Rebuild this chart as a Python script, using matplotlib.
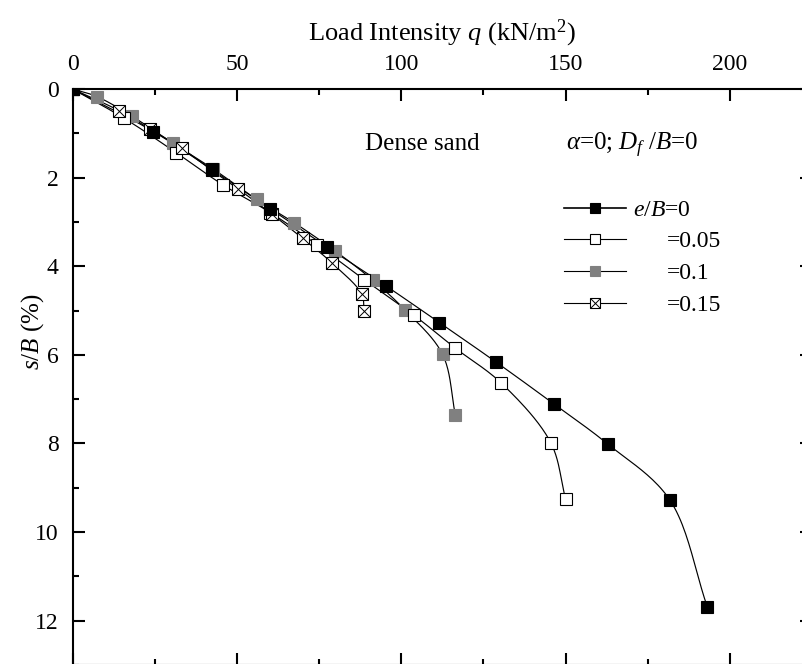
import numpy as np
import matplotlib
matplotlib.use("Agg")
import matplotlib.pyplot as plt
from matplotlib.ticker import MultipleLocator, FixedLocator

plt.rcParams['font.family'] = ['Liberation Serif', 'DejaVu Serif']
plt.rcParams['mathtext.fontset'] = 'custom'
plt.rcParams['mathtext.rm'] = 'Liberation Serif'
plt.rcParams['mathtext.it'] = 'Liberation Serif:italic'
plt.rcParams['mathtext.bf'] = 'Liberation Serif:bold'

# ---- data ----
q_e0 = [0, 24.6, 42.3, 60.1, 77.3, 95.3, 111.6, 129.0, 146.5, 162.8, 181.7, 193.2]
s_e0 = [0, 0.96, 1.81, 2.70, 3.56, 4.44, 5.27, 6.17, 7.11, 8.01, 9.27, 11.70]

q_e005 = [0, 15.7, 31.6, 45.9, 60.2, 74.5, 88.7, 103.8, 116.5, 130.5, 145.5, 150.0]
s_e005 = [0, 0.66, 1.44, 2.17, 2.79, 3.52, 4.30, 5.10, 5.85, 6.64, 7.98, 9.26]

q_e01 = [0, 7.4, 18.0, 30.7, 42.7, 56.0, 67.5, 79.8, 91.3, 101.2, 112.6, 116.5]
s_e01 = [0, 0.17, 0.61, 1.23, 1.80, 2.49, 3.02, 3.65, 4.31, 4.99, 5.99, 7.36]

q_e015 = [0, 14.2, 23.7, 33.2, 42.3, 50.5, 60.6, 70.0, 79.0, 88.0, 88.7]
s_e015 = [0, 0.49, 0.91, 1.34, 1.83, 2.26, 2.82, 3.37, 3.93, 4.63, 5.01]

labels = ['$e/B$=0', '=0.05', '=0.1', '=0.15']
x_ticks = [0, 50, 100, 150, 200]
y_ticks = [0, 2, 4, 6, 8, 10, 12]

fig = plt.figure(figsize=(8.02, 6.64), dpi=100)
ax = fig.add_axes([72.5 / 802, 1 - 665 / 664, 739.5 / 802, 576 / 664])
ax.set_xlim(0, 225)
ax.set_ylim(13, 0)


def smooth(xs, ys, n=24, alpha=0.5):
    """Centripetal Catmull-Rom curve through the points, computed in display space."""
    P = ax.transData.transform(np.column_stack([xs, ys]).astype(float))
    P = np.vstack([2 * P[0] - P[1], P, 2 * P[-1] - P[-2]])
    out = []
    for i in range(1, len(P) - 2):
        p0, p1, p2, p3 = P[i - 1], P[i], P[i + 1], P[i + 2]
        t0 = 0.0
        t1 = t0 + max(np.linalg.norm(p1 - p0), 1e-6) ** alpha
        t2 = t1 + max(np.linalg.norm(p2 - p1), 1e-6) ** alpha
        t3 = t2 + max(np.linalg.norm(p3 - p2), 1e-6) ** alpha
        t = np.linspace(t1, t2, n)[:, None]
        a1 = (t1 - t) / (t1 - t0) * p0 + (t - t0) / (t1 - t0) * p1
        a2 = (t2 - t) / (t2 - t1) * p1 + (t - t1) / (t2 - t1) * p2
        a3 = (t3 - t) / (t3 - t2) * p2 + (t - t2) / (t3 - t2) * p3
        b1 = (t2 - t) / (t2 - t0) * a1 + (t - t0) / (t2 - t0) * a2
        b2 = (t3 - t) / (t3 - t1) * a2 + (t - t1) / (t3 - t1) * a3
        c = (t2 - t) / (t2 - t1) * b1 + (t - t1) / (t2 - t1) * b2
        out.append(c if i == 1 else c[1:])
    D = ax.transData.inverted().transform(np.vstack(out))
    return D[:, 0], D[:, 1]


ms = 8.4
gray = '#808080'
series = [
    (q_e01, s_e01, dict(marker='s', mfc=gray, mec=gray), False),
    (q_e005, s_e005, dict(marker='s', mfc='white', mec='black'), False),
    (q_e015, s_e015, dict(marker='s', mfc='white', mec='black'), True),
    (q_e0, s_e0, dict(marker='s', mfc='black', mec='black'), False),
]
for xs, ys, mk, crossed in series:
    sx, sy = smooth(xs, ys)
    ax.plot(sx, sy, color='black', lw=0.85, zorder=2)
    ax.plot(xs, ys, ls='none', ms=ms, mew=0.8, zorder=3, **mk)
    if crossed:
        ax.plot(xs, ys, ls='none', marker='x', ms=ms, mew=0.7, color='black', zorder=3)

# ---- axes styling ----
for sp in ax.spines.values():
    sp.set_linewidth(1.5)
ax.xaxis.set_major_locator(FixedLocator(x_ticks))
ax.xaxis.set_minor_locator(MultipleLocator(25))
ax.yaxis.set_major_locator(FixedLocator(y_ticks))
ax.yaxis.set_minor_locator(MultipleLocator(1))
ax.tick_params(which='both', direction='in', top=True, bottom=True, left=True, right=True,
               labeltop=True, labelbottom=False, labelleft=True, labelright=False,
               width=1.5, labelsize=17, pad=10)
ax.tick_params(which='major', length=8.4)
ax.tick_params(which='minor', length=4.3)
ax.tick_params(axis='y', which='minor', right=False)

fig.text(442 / 802, 1 - 40 / 664, 'Load Intensity $q$ (kN/m$^2$)', ha='center', va='baseline', fontsize=19)
fig.text(33 / 802, 1 - 332 / 664, '$s/B$ (%)', rotation=90, ha='center', va='center', fontsize=18)

# ---- annotations ----
def px(xp, yp):
    return (xp - 72.5) / 739.5, 1 - (yp - 89) / 576

ax.text(*px(365, 150), 'Dense sand', transform=ax.transAxes, fontsize=18, va='baseline', ha='left')
ax.text(*px(566, 150), r'$\alpha$=0; $D_f$ /$B$=0', transform=ax.transAxes, fontsize=18,
        va='baseline', ha='left')

# ---- legend (drawn by hand to keep the Origin-style alignment) ----
rows = [208, 239, 271, 303]
lsty = [
    (dict(marker='s', mfc='black', mec='black'), 1.2, False, 633),
    (dict(marker='s', mfc='white', mec='black'), 0.8, False, 667),
    (dict(marker='s', mfc=gray, mec=gray), 0.8, False, 667),
    (dict(marker='s', mfc='white', mec='black'), 0.8, True, 667),
]
for yp, (mk, lw, crossed, tx), lab in zip(rows, lsty, labels):
    x0, y0 = px(564, yp)
    x1, _ = px(626, yp)
    xm, _ = px(595, yp)
    ax.plot([x0, x1], [y0, y0], color='black', lw=lw, transform=ax.transAxes, clip_on=False)
    ax.plot([xm], [y0], ls='none', ms=6.7, mew=0.8, transform=ax.transAxes, clip_on=False, **mk)
    if crossed:
        ax.plot([xm], [y0], ls='none', marker='x', ms=6.7, mew=0.7, color='black',
                transform=ax.transAxes, clip_on=False)
    xt, yt = px(tx, yp)
    ax.text(xt, yt, lab, transform=ax.transAxes, fontsize=17, va='center_baseline', ha='left')

fig.savefig('out.png', dpi=100)
